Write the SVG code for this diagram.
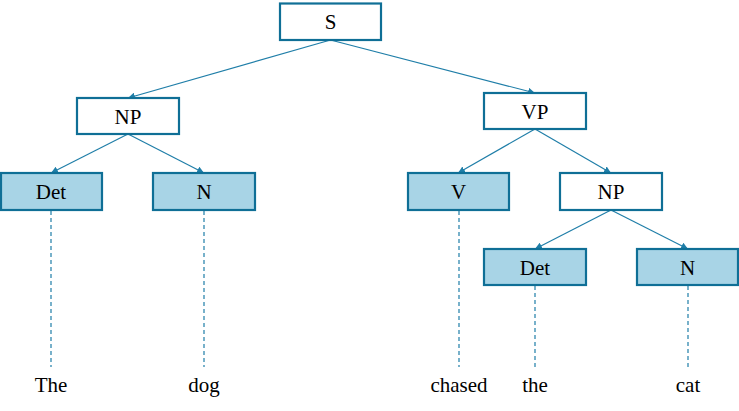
<svg xmlns="http://www.w3.org/2000/svg" width="739" height="411" viewBox="0 0 739 411">
<style>
.box{fill:#ffffff;stroke:#0f6f96;stroke-width:2.2}
.leaf{fill:#a8d4e6;stroke:#0f6f96;stroke-width:2.2}
text{font-family:'Liberation Serif','Times New Roman',serif;font-size:21px;fill:#000000;text-anchor:middle}
.edge{stroke:#1f7ea8;stroke-width:1.2;fill:none;marker-end:url(#arr)}
.dash{stroke:#1f7ea8;stroke-width:1.2;fill:none;stroke-dasharray:4,3}
</style>
<defs>
<marker id="arr" viewBox="0 0 10 10" refX="10" refY="5" markerWidth="7" markerHeight="7" markerUnits="userSpaceOnUse" orient="auto">
<path d="M0,0 L10,5 L0,10 z" fill="#1f7ea8"/>
</marker>
</defs>
<rect width="739" height="411" fill="#ffffff"/>
<g id="connectors">
<line class="edge" x1="330.5" y1="40" x2="128" y2="98"/>
<line class="edge" x1="330.5" y1="40" x2="535" y2="93"/>
<line class="edge" x1="128" y1="134" x2="51" y2="173"/>
<line class="edge" x1="128" y1="134" x2="204" y2="173"/>
<line class="edge" x1="535" y1="129" x2="458" y2="173"/>
<line class="edge" x1="535" y1="129" x2="611" y2="173"/>
<line class="edge" x1="611" y1="210" x2="535" y2="249"/>
<line class="edge" x1="611" y1="210" x2="688" y2="249"/>
<line class="dash" x1="51" y1="211" x2="51" y2="367"/>
<line class="dash" x1="204" y1="211" x2="204" y2="367"/>
<line class="dash" x1="459" y1="211" x2="459" y2="367"/>
<line class="dash" x1="535" y1="286" x2="535" y2="367"/>
<line class="dash" x1="688" y1="286" x2="688" y2="367"/>
</g>
<g id="S"><rect class="box" x="280" y="3.5" width="101" height="36.5"/><text x="330.5" y="29">S</text></g>
<g id="NP1"><rect class="box" x="77" y="98" width="102" height="36"/><text x="128" y="123.5">NP</text></g>
<g id="VP"><rect class="box" x="484" y="93" width="102" height="36"/><text x="535" y="118.5">VP</text></g>
<g id="Det1"><rect class="leaf" x="1" y="173" width="101" height="37"/><text x="51" y="198.5">Det</text></g>
<g id="N1"><rect class="leaf" x="153" y="173" width="102" height="37"/><text x="204" y="198.5">N</text></g>
<g id="V"><rect class="leaf" x="408" y="173" width="101" height="37"/><text x="458.5" y="198.5">V</text></g>
<g id="NP2"><rect class="box" x="560" y="173" width="102" height="37"/><text x="611" y="198.5">NP</text></g>
<g id="Det2"><rect class="leaf" x="484" y="249" width="102" height="36"/><text x="535" y="274.5">Det</text></g>
<g id="N2"><rect class="leaf" x="637" y="249" width="101" height="36"/><text x="687.5" y="274.5">N</text></g>
<g id="words">
<text x="51" y="391.5">The</text>
<text x="204" y="391.5">dog</text>
<text x="459" y="391.5">chased</text>
<text x="535" y="391.5">the</text>
<text x="688" y="391.5">cat</text>
</g>
</svg>
